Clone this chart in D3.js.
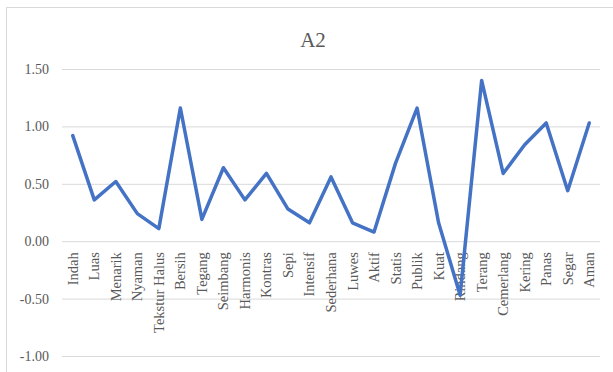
<!DOCTYPE html>
<html>
<head>
<meta charset="utf-8">
<script src="https://cdn.jsdelivr.net/npm/d3@7"></script>
<style>
  html, body { margin: 0; padding: 0; background: #fff; }
  svg { display: block; }
  svg text { font-family: "Liberation Serif", "Times New Roman", Times, serif; }
</style>
</head>
<body>
<svg id="chart" width="613" height="372"></svg>
<script>
// Semantic differential scores for A2
const categories = ["Indah", "Luas", "Menarik", "Nyaman", "Tekstur Halus", "Bersih", "Tegang",
  "Seimbang", "Harmonis", "Kontras", "Sepi", "Intensif", "Sederhana", "Luwes", "Aktif", "Statis",
  "Publik", "Kuat", "Rindang", "Terang", "Cemerlang", "Kering", "Panas", "Segar", "Aman"];
const values = [0.92, 0.36, 0.52, 0.24, 0.11, 1.16, 0.19, 0.64, 0.36, 0.59, 0.28, 0.16, 0.56,
  0.16, 0.08, 0.68, 1.16, 0.16, -0.47, 1.40, 0.59, 0.84, 1.03, 0.44, 1.03];
const yTicks = [-1.0, -0.5, 0, 0.5, 1.0, 1.5];
const title = "A2";

const serif = "'Liberation Serif', 'Times New Roman', Times, serif";
const svg = d3.select("#chart");
const W = 613, H = 372;
const margin = { left: 62, right: 13 };

// chart frame
svg.append("path")
  .attr("d", `M6.5,${H} L6.5,7.5 L${W},7.5`)
  .attr("fill", "none")
  .attr("stroke", "#d9d9d9")
  .attr("stroke-width", 1);

const x = d3.scaleBand()
  .domain(categories)
  .range([margin.left, W - margin.right])
  .padding(0);

const y = d3.scaleLinear()
  .domain([-1.0, 1.5])
  .range([356, 69]);

// gridlines and value labels (plain hyphen for negatives)
const fmt = d => d3.format(".2f")(d).replace("\u2212", "-");
const yAxis = d3.axisLeft(y)
  .tickValues(yTicks)
  .tickSize(-(W - margin.right - margin.left))
  .tickPadding(13)
  .tickFormat(fmt);

const gy = svg.append("g")
  .attr("transform", `translate(${margin.left},0)`)
  .call(yAxis)
  .attr("font-family", serif)
  .attr("font-size", 14);
gy.select(".domain").remove();
gy.selectAll(".tick line").attr("stroke", "#d9d9d9").attr("stroke-width", 1);
gy.selectAll(".tick text").attr("fill", "#595959");

// category labels, rotated
const xAxis = d3.axisBottom(x).tickSize(0).tickPadding(0);
const gx = svg.append("g")
  .attr("transform", `translate(0,${y(0)})`)
  .call(xAxis)
  .attr("font-family", serif)
  .attr("font-size", 14.5);
gx.select(".domain").remove();
gx.selectAll(".tick text")
  .attr("fill", "#595959")
  .attr("text-anchor", "end")
  .attr("dy", null)
  .attr("y", 0)
  .attr("transform", "translate(5,11) rotate(-90)");

// data line
const line = d3.line()
  .x((d, i) => x(categories[i]) + x.bandwidth() / 2)
  .y(d => y(d));

svg.append("path")
  .datum(values)
  .attr("d", line)
  .attr("fill", "none")
  .attr("stroke", "#4472c4")
  .attr("stroke-width", 3.5)
  .attr("stroke-linejoin", "round")
  .attr("stroke-linecap", "round");

// title
svg.append("text")
  .attr("x", 313)
  .attr("y", 47)
  .attr("text-anchor", "middle")
  .attr("fill", "#595959")
  .attr("font-family", serif)
  .attr("font-size", 21)
  .text(title);
</script>
</body>
</html>
